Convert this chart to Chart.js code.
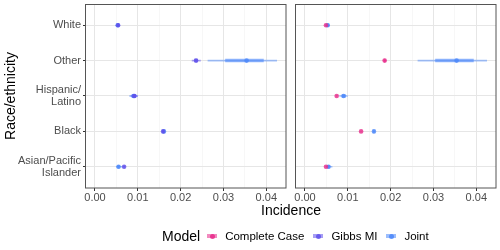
<!DOCTYPE html>
<html lang="en">
<head>
    <meta charset="UTF-8">
    <title>Incidence by race/ethnicity</title>
    <script src="https://cdn.jsdelivr.net/npm/chart.js"></script>
    <style>
        body { margin: 0; background: #fff; font-family: 'Liberation Sans', Arial, sans-serif; }
        #wrap { position: relative; width: 500px; height: 250px; }
        canvas { position: absolute; top: 0; }
        #left { left: 0; }
        #right { left: 292px; }
        #xtitle { position: absolute; left: 291px; top: 202px; transform: translateX(-50%); font-size: 14px; color: #000; }
        #legend { position: absolute; left: 162px; top: 228px; height: 16px; display: flex; align-items: center; font-size: 11.5px; color: #000; }
        #legend .ttl { font-size: 14px; margin-right: 7px; }
        #legend .key { position: relative; width: 10px; height: 4px; margin-right: 8px; }
        #legend .key i { position: absolute; left: 2.5px; top: -0.5px; width: 5px; height: 5px; border-radius: 50%; }
        #legend .lab { margin-right: 9px; }
    </style>
</head>
<body>
<div id="wrap">
    <canvas id="left" width="290" height="210"></canvas>
    <canvas id="right" width="208" height="210"></canvas>
    <div id="xtitle">Incidence</div>
    <div id="legend"></div>
</div>
<script>
    // categories, top to bottom, and their positions on the y scale
    var categories = ['White', 'Other', ['Hispanic/', 'Latino'], 'Black', ['Asian/Pacific', 'Islander']];
    var catPos = [5, 4, 3, 2, 1];

    // x ticks (major every 0.01, minor grid every 0.005)
    var xTicks = [0, 0.005, 0.01, 0.015, 0.02, 0.025, 0.03, 0.035, 0.04];

    // Complete Case
    var ccEst  = [0.0049, 0.0186, 0.0074, 0.0131, 0.0049];
    var ccLo95 = [0.0048, 0.0183, 0.0073, 0.0130, 0.0048];
    var ccHi95 = [0.0050, 0.0190, 0.0075, 0.0132, 0.0050];
    var ccLo50 = [0.0049, 0.0185, 0.0074, 0.0131, 0.0049];
    var ccHi50 = [0.0049, 0.0188, 0.0074, 0.0131, 0.0049];

    // Gibbs MI
    var gibbsEst  = [0.0054, 0.0236, 0.0092, 0.0159, 0.0068];
    var gibbsLo95 = [0.0050, 0.0226, 0.0083, 0.0157, 0.0065];
    var gibbsHi95 = [0.0058, 0.0247, 0.0100, 0.0161, 0.0071];
    var gibbsLo50 = [0.0052, 0.0232, 0.0088, 0.0158, 0.0067];
    var gibbsHi50 = [0.0056, 0.0240, 0.0096, 0.0160, 0.0069];

    // Joint
    var jointEst  = [0.0053, 0.0354, 0.0090, 0.0161, 0.0055];
    var jointLo95 = [0.0049, 0.0263, 0.0080, 0.0159, 0.0049];
    var jointHi95 = [0.0058, 0.0425, 0.0100, 0.0163, 0.0064];
    var jointLo50 = [0.0051, 0.0304, 0.0086, 0.0160, 0.0052];
    var jointHi50 = [0.0056, 0.0394, 0.0095, 0.0162, 0.0058];

    var models = {
        'Complete Case': { rgb: '231,41,138', est: ccEst, lo95: ccLo95, hi95: ccHi95, lo50: ccLo50, hi50: ccHi50 },
        'Gibbs MI': { rgb: '95,80,235', est: gibbsEst, lo95: gibbsLo95, hi95: gibbsHi95, lo50: gibbsLo50, hi50: gibbsHi50 },
        'Joint': { rgb: '75,135,250', est: jointEst, lo95: jointLo95, hi95: jointHi95, lo50: jointLo50, hi50: jointHi50 }
    };

    Chart.defaults.font.family = "'Liberation Sans', Arial, sans-serif";
    Chart.defaults.animation = false;

    function segments(lo, hi) {
        var d = [];
        lo.forEach(function (l, i) {
            d.push({ x: l, y: catPos[i] }, { x: hi[i], y: catPos[i] }, { x: null, y: null });
        });
        return d;
    }

    function modelDatasets(name) {
        var m = models[name];
        return [
            { type: 'scatter', showLine: true, data: segments(m.lo95, m.hi95), borderColor: 'rgba(' + m.rgb + ',0.5)', borderWidth: 1.7, pointRadius: 0 },
            { type: 'scatter', showLine: true, data: segments(m.lo50, m.hi50), borderColor: 'rgba(' + m.rgb + ',0.6)', borderWidth: 3.5, pointRadius: 0 },
            { type: 'scatter', data: m.est.map(function (v, i) { return { x: v, y: catPos[i] }; }),
              backgroundColor: 'rgba(' + m.rgb + ',0.8)', pointRadius: 2.3, pointBorderWidth: 0 }
        ];
    }

    var panelBorder = {
        id: 'panelBorder',
        afterDraw: function (chart) {
            var a = chart.chartArea, c = chart.ctx;
            c.save();
            c.strokeStyle = '#555';
            c.lineWidth = 1;
            c.strokeRect(Math.round(a.left) - 0.5, Math.round(a.top) + 0.5, Math.round(a.right - a.left) + 0.5, Math.round(a.bottom - a.top) - 0.5);
            c.restore();
        }
    };

    function noPad(s) {
        s.paddingTop = 0; s.paddingBottom = 0; s.paddingLeft = 0; s.paddingRight = 0;
    }

    function makePanel(id, names, withY, pad) {
        var ds = [];
        // first listed model is drawn underneath
        names.forEach(function (n) { ds = modelDatasets(n).concat(ds); });
        return new Chart(document.getElementById(id), {
            type: 'scatter',
            data: { datasets: ds },
            plugins: [panelBorder],
            options: {
                responsive: false,
                layout: { padding: pad },
                plugins: { legend: { display: false }, tooltip: { enabled: false } },
                scales: {
                    x: {
                        type: 'linear',
                        min: -0.0021,
                        max: 0.0446,
                        afterBuildTicks: function (s) { s.ticks = xTicks.map(function (v) { return { value: v }; }); },
                        afterFit: function (s) { s.height = 22; noPad(s); },
                        border: { display: false },
                        grid: {
                            color: function (ctx) { return ctx.index % 2 === 0 ? '#e6e6e6' : '#f2f2f2'; },
                            lineWidth: function (ctx) { return ctx.index % 2 === 0 ? 1 : 0.6; },
                            tickColor: function (ctx) { return ctx.index % 2 === 0 ? '#333' : 'rgba(0,0,0,0)'; },
                            tickLength: 3
                        },
                        ticks: {
                            autoSkip: false,
                            maxRotation: 0,
                            padding: 0,
                            color: '#4d4d4d',
                            font: { size: 11 },
                            callback: function (v, i) { return i % 2 === 0 ? v.toFixed(2) : ''; }
                        }
                    },
                    y: {
                        type: 'linear',
                        min: 0.4,
                        max: 5.6,
                        afterBuildTicks: function (s) { s.ticks = catPos.map(function (v) { return { value: v }; }); },
                        afterFit: function (s) { s.width = withY ? 86 : 0; noPad(s); },
                        border: { display: false },
                        title: {
                            display: withY,
                            text: 'Race/ethnicity',
                            color: '#000',
                            font: { size: 14 },
                            padding: { top: 3, bottom: 0 }
                        },
                        grid: { color: '#e6e6e6', lineWidth: 1, drawTicks: withY, tickColor: '#333', tickLength: 3 },
                        ticks: {
                            display: withY,
                            autoSkip: false,
                            padding: 2,
                            color: '#4d4d4d',
                            font: { size: 11, lineHeight: 1.05 },
                            callback: function (v) { return categories[catPos.indexOf(v)]; }
                        }
                    }
                }
            }
        });
    }

    makePanel('left', ['Joint', 'Gibbs MI'], true, { top: 4, right: 2, bottom: 0, left: 0 });
    makePanel('right', ['Joint', 'Complete Case'], false, { top: 4, right: 4, bottom: 0, left: 0.5 });

    // legend
    var legend = document.getElementById('legend');
    var t = document.createElement('span');
    t.className = 'ttl';
    t.textContent = 'Model';
    legend.appendChild(t);
    Object.keys(models).forEach(function (n) {
        var k = document.createElement('span');
        k.className = 'key';
        k.style.background = 'rgba(' + models[n].rgb + ',0.55)';
        var dot = document.createElement('i');
        dot.style.background = 'rgba(' + models[n].rgb + ',0.85)';
        k.appendChild(dot);
        var l = document.createElement('span');
        l.className = 'lab';
        l.textContent = n;
        legend.appendChild(k);
        legend.appendChild(l);
    });
</script>
</body>
</html>
